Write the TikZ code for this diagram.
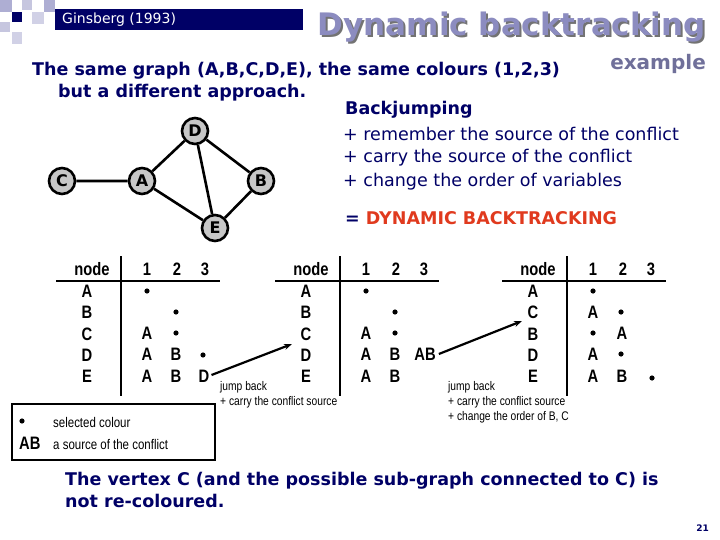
\documentclass[tikz,border=0pt]{standalone}
\usepackage{fontspec}
\setmainfont{DejaVu Sans}
\newfontfamily\ar{Liberation Sans}
\newfontfamily\arn[FakeStretch=0.82]{Liberation Sans}
\usetikzlibrary{arrows.meta}
\definecolor{navy}{HTML}{000066}
\definecolor{lav}{HTML}{8C8CC0}
\definecolor{redt}{HTML}{E03A1E}
\tikzset{
 gn/.style={circle,draw=black,line width=2.6pt,fill=black!22,inner sep=0pt,minimum size=26pt,font=\bfseries\fontsize{16}{16}\selectfont},
 ge/.style={line width=2.6pt},
 tb/.style={anchor=center,font=\arn\bfseries\fontsize{18}{18}\selectfont,inner sep=0pt},
 tl/.style={line width=1.5pt},
 nt/.style={anchor=north west,align=left,font=\arn\fontsize{12.5}{15}\selectfont,inner sep=0pt},
 arr/.style={line width=2.2pt,-{Stealth[length=8pt,width=6pt]}},
 navyt/.style={text=navy,inner sep=0pt,font=\bfseries\fontsize{17.5}{21}\selectfont},
 bl/.style={text=navy,inner sep=0pt,anchor=west,font=\fontsize{17.5}{21}\selectfont}
}
\begin{document}
\begin{tikzpicture}[x=1pt,y=-1pt]
\useasboundingbox (0,0) rectangle (720,540);
% header decoration
\fill[navy] (55,9) rectangle (303,30);
\fill[lav!70] (0,0) rectangle (12,12);
\fill[navy] (12,12) rectangle (22,22);
\fill[lav!50] (22,0) rectangle (32,10);
\fill[lav!50] (0,22) rectangle (10,32);
\fill[lav!40] (32,12) rectangle (44,24);
\fill[lav!70] (44,0) rectangle (55,12);
\fill[lav!40] (12,32) rectangle (22,44);
\node[anchor=west,text=white,font=\fontsize{14}{16}\selectfont,inner sep=0pt] (gins) at (62,20) {Ginsberg (1993)};
\node[anchor=east,text=black!55,font=\bfseries\fontsize{31}{34}\selectfont,inner sep=0pt] (tsh) at (708,29) {Dynamic backtracking};
\node[anchor=east,text=lav,font=\bfseries\fontsize{31}{34}\selectfont,inner sep=0pt] (title) at (706,27) {Dynamic backtracking};
\node[anchor=east,text=lav!80!black,font=\bfseries\fontsize{20}{22}\selectfont,inner sep=0pt] (ex) at (706,64) {example};
\node[navyt,anchor=west] (intro) at (32,71) {The same graph (A,B,C,D,E), the same colours (1,2,3)};
\node[navyt,anchor=west] (intro2) at (58,93) {but a different approach.};
% graph
\node[gn] (D) at (195,131) {D};
\node[gn] (C) at (62,181) {C};
\node[gn] (A) at (142,181) {A};
\node[gn] (B) at (261,181) {B};
\node[gn] (E) at (215,228) {E};
\draw[ge] (C)--(A) (A)--(D) (D)--(B) (D)--(E) (A)--(E) (B)--(E);
% right text
\node[navyt,anchor=west] (bj) at (345,110) {Backjumping};
\node[bl] (l1) at (343,134) {+ remember the source of the conflict};
\node[bl] (l2) at (343,158) {+ carry the source of the conflict};
\node[bl] (l3) at (343,182) {+ change the order of variables};
\node[navyt,anchor=west] (dyn) at (345,218) {= \textcolor{redt}{DYNAMIC BACKTRACKING}};
% tables
\foreach \ox/\tag/\rows in {0/a/{A,B,C,D,E},219/b/{A,B,C,D,E},446/c/{A,C,B,D,E}}{
 \draw[tl] (56+\ox,281)--(220+\ox,281);
 \draw[tl] (121+\ox,256)--(121+\ox,396);
 \node[tb] at (92+\ox,269) {node};
 \node[tb] at (147+\ox,269) {1};
 \node[tb] at (177+\ox,269) {2};
 \node[tb] at (205+\ox,269) {3};
 \foreach \r [count=\i] in \rows { \node[tb] at (87+\ox,270+21.3*\i) {\r}; }
}
\newcommand\cell[3]{\node[tb] at (#1,#2) {#3};}
\newcommand\dotc[2]{\fill (#1,#2) circle (2.6pt);}
% table 1
\dotc{147}{291}\dotc{176}{312}
\cell{147}{333}{A}\dotc{176}{333}
\cell{147}{354}{A}\cell{176}{354}{B}\dotc{203}{355}
\cell{147}{376}{A}\cell{176}{376}{B}\node[tb] (t1D) at (204,376) {D};
% table 2
\dotc{366}{291}\dotc{395}{312}
\cell{366}{333}{A}\dotc{395}{333}
\cell{366}{354}{A}\cell{395}{354}{B}\node[tb] (t2AB) at (425,354) {AB};
\cell{366}{376}{A}\cell{395}{376}{B}
% table 3
\dotc{593}{291}
\cell{593}{312}{A}\dotc{621}{312}
\dotc{593}{333}\cell{622}{333}{A}
\cell{593}{354}{A}\dotc{621}{354}
\cell{593}{376}{A}\cell{622}{376}{B}\dotc{652}{378}
\draw[arr] (t1D.east)++(2,-1) coordinate (s1) -- (292,344);
\draw[arr] (t2AB.east)++(3,0) coordinate (s2) -- (522,321);
\node[nt] (n1) at (220,381) {jump back\\+ carry the conflict source};
\node[nt] (n2) at (448,381) {jump back\\+ carry the conflict source\\+ change the order of B, C};
% legend
\draw[line width=1.2pt] (12,404) rectangle (215,460);
\fill (22,421) circle (2.6pt);
\node[anchor=west,font=\arn\fontsize{14}{16}\selectfont,inner sep=0pt] (sc) at (53,422) {selected colour};
\node[anchor=west,font=\arn\bfseries\fontsize{18}{18}\selectfont,inner sep=0pt] (abk) at (19,443) {AB};
\node[anchor=west,font=\arn\fontsize{14}{16}\selectfont,inner sep=0pt] (sa) at (53,444) {a source of the conflict};
% bottom
\node[navyt,anchor=north west,align=left,font=\bfseries\fontsize{17.5}{22}\selectfont] (bot) at (65,472) {The vertex C (and the possible sub-graph connected to C) is\\not re-coloured.};
\node[anchor=east,text=navy,font=\bfseries\fontsize{9}{10}\selectfont,inner sep=0pt] (pg) at (709,528) {21};
\end{tikzpicture}
\end{document}
